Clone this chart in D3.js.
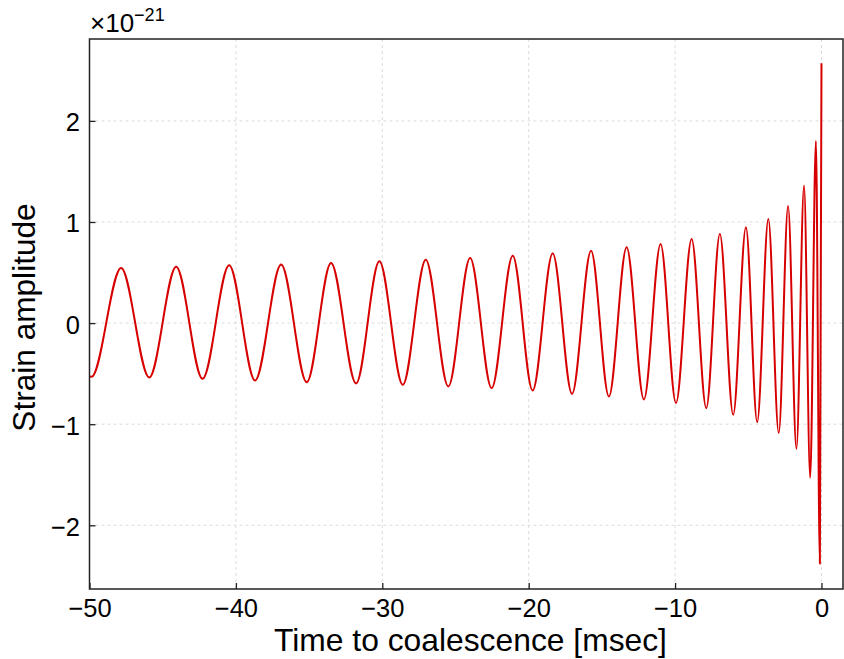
<!DOCTYPE html>
<html><head><meta charset="utf-8">
<script src="https://cdn.jsdelivr.net/npm/d3@7"></script>
<style>body{margin:0;background:#fff}svg{display:block}text{font-family:"Liberation Sans",Arial,Helvetica,sans-serif;fill:#000}</style>
</head><body><svg id="c" width="844" height="659"></svg>
<script>
// Extrema of the waveform (time in msec, strain in units of 1e-21)
const times = [-50.0, -49.86, -47.84, -45.92, -44.08, -42.28, -40.46, -38.69, -36.91, -35.16, -33.5, -31.79, -30.2, -28.6, -27.03, -25.49, -24.0,
  -22.53, -21.09, -19.73, -18.36, -17.04, -15.74, -14.52, -13.31, -12.13, -10.99, -9.94, -8.87, -7.87, -6.94, -6.03, -5.16, -4.39, -3.63,
  -2.92, -2.28, -1.71, -1.19, -0.77, -0.38, -0.11, 0.0];
const strain = [-0.527, -0.53, 0.545, -0.538, 0.558, -0.551, 0.572, -0.568, 0.58, -0.584, 0.595, -0.597, 0.611, -0.61, 0.627, -0.627, 0.644,
  -0.643, 0.667, -0.666, 0.69, -0.699, 0.716, -0.726, 0.75, -0.755, 0.782, -0.79, 0.832, -0.84, 0.881, -0.907, 0.947, -0.979, 1.03,
  -1.086, 1.157, -1.243, 1.36, -1.53, 1.80, -2.38, 2.57];
const xTicks = [-50, -40, -30, -20, -10, 0];
const yTicks = [-2, -1, 0, 1, 2];
const xDomain = [-50, 1.47];
const yDomain = [-2.63, 2.81];

const data = times.map((t, i) => ({t, v: strain[i]}));
const svg = d3.select("#c");
const L = 89.5, R = 843, T = 39, B = 589;
const x = d3.scaleLinear().domain(xDomain).range([L, R]);
const y = d3.scaleLinear().domain(yDomain).range([B, T]);
const fmt = d => d < 0 ? "\u2212" + Math.abs(d) : d;

// grid
const g = svg.append("g");
g.selectAll(".gx").data(xTicks.filter(d => d > xDomain[0])).join("line")
  .attr("x1", d => x(d)).attr("x2", d => x(d)).attr("y1", T).attr("y2", B)
  .attr("stroke", "#dcdcdc").attr("stroke-width", 1).attr("stroke-dasharray", "3,3");
g.selectAll(".gy").data(yTicks).join("line")
  .attr("y1", d => y(d)).attr("y2", d => y(d)).attr("x1", L).attr("x2", R)
  .attr("stroke", "#dcdcdc").attr("stroke-width", 1).attr("stroke-dasharray", "3,3");

// clip
svg.append("clipPath").attr("id", "clip").append("rect")
  .attr("x", L).attr("y", T).attr("width", R - L).attr("height", B - T);

const line = d3.line().x(d => x(d.t)).y(d => y(d.v)).curve(d3.curveMonotoneX);
svg.append("path").datum(data).attr("d", line).attr("clip-path", "url(#clip)")
  .attr("fill", "none").attr("stroke", "#d70000").attr("stroke-width", 2).attr("stroke-linejoin", "round");

// axes with inward ticks
const xAxis = d3.axisBottom(x).tickValues(xTicks).tickSizeInner(-6).tickSizeOuter(0).tickFormat(fmt);
const yAxis = d3.axisLeft(y).tickValues(yTicks).tickSizeInner(-6).tickSizeOuter(0).tickPadding(9.5).tickFormat(fmt);
const ax = svg.append("g").attr("transform", `translate(0,${B})`).call(xAxis);
const ay = svg.append("g").attr("transform", `translate(${L},0)`).call(yAxis);
[ax, ay].forEach(a => {
  a.select(".domain").remove();
  a.selectAll("line").attr("stroke", "#222").attr("stroke-width", 1.3);
  a.selectAll("text").style("font-size", "25.5px").attr("fill", "#000");
});
ax.selectAll("text").attr("y", 28).attr("dy", "0");
ay.selectAll("text").attr("dy", "0.39em");

// frame
svg.append("rect").attr("x", L).attr("y", T).attr("width", R - L).attr("height", B - T)
  .attr("fill", "none").attr("stroke", "#222").attr("stroke-width", 1.5);

// labels
svg.append("text").attr("x", 470.5).attr("y", 651).attr("text-anchor", "middle")
  .style("font-size", "31.8px").text("Time to coalescence [msec]");
svg.append("text").attr("transform", `translate(35,317.5) rotate(-90)`).attr("text-anchor", "middle")
  .style("font-size", "31.6px").text("Strain amplitude");
const ex = svg.append("text").attr("x", 90).attr("y", 31.5).style("font-size", "26px");
ex.append("tspan").text("\u00d710");
ex.append("tspan").attr("dy", -10.5).style("font-size", "18px").text("\u221221");
</script></body></html>
